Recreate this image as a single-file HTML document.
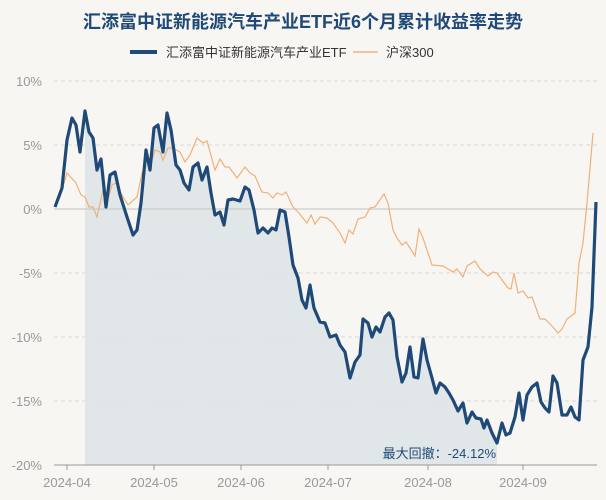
<!DOCTYPE html>
<html><head><meta charset="utf-8"><style>
html,body{margin:0;padding:0;background:#f8f6f2;}
svg{display:block;font-family:"Liberation Sans","Noto Sans CJK SC",sans-serif;}
</style></head><body>
<svg width="606" height="500" viewBox="0 0 606 500">
<rect width="606" height="500" fill="#f8f6f2"/>
<text x="303" y="28" text-anchor="middle" font-size="18" font-weight="bold" fill="#1f4a78">汇添富中证新能源汽车产业ETF近6个月累计收益率走势</text>
<line x1="130" y1="52" x2="157" y2="52" stroke="#1f4a78" stroke-width="4"/>
<text x="166" y="57" font-size="13" fill="#333">汇添富中证新能源汽车产业ETF</text>
<line x1="353" y1="52" x2="378" y2="52" stroke="#f0b07a" stroke-width="1.5"/>
<text x="386" y="57" font-size="13" fill="#333">沪深300</text>
<g stroke="#d8d8d8" stroke-dasharray="4,3" stroke-width="1">
<line x1="54" y1="81" x2="597" y2="81"/><line x1="54" y1="145" x2="597" y2="145"/><line x1="54" y1="273" x2="597" y2="273"/><line x1="54" y1="337" x2="597" y2="337"/><line x1="54" y1="401" x2="597" y2="401"/>
</g>
<g font-size="13" fill="#999" text-anchor="end">
<text x="42" y="86">10%</text><text x="42" y="150">5%</text><text x="42" y="214">0%</text><text x="42" y="278">-5%</text><text x="42" y="342">-10%</text><text x="42" y="406">-15%</text><text x="42" y="470">-20%</text>
</g>
<polygon fill="#dde3e8" fill-opacity="0.85" points="85,465 85,111 89,132 93,138 97,170 101,159 106,207 110,175 115,172 120,195 127,217 133,235 137,230 141,203 146,150 150,170 154,128 158,125 163,152 167,113 171,130 176,165 180,170 184,183 189,190 193,167 198,163 202,180 207,167 211,193 215,215 220,212 224,225 228,200 233,199 240,201 245,187 249,190 254,210 258,233 263,228 268,233 272,228 276,230 280,210 285,212 289,237 293,265 298,278 302,300 306,308 310,285 314,308 320,322 325,323 330,337 336,335 340,345 345,352 350,378 355,362 360,355 363,319 368,323 372,337 376,327 380,332 385,317 389,313 393,320 397,357 402,382 406,373 410,347 414,377 418,378 423,339 427,360 432,378 436,393 440,383 445,387 449,393 453,400 458,411 463,403 467,423 472,412 476,418 481,419 484,428 487,420 492,433 497,443 497,465"/>
<line x1="54" y1="209" x2="597" y2="209" stroke="#ccc" stroke-width="1.2"/>
<polyline fill="none" stroke="#f0b07a" stroke-width="1.2" points="55,207 60,197 67,173 76,183 81,195 85,197 89,207 93,207 97,217 103,190 107,203 112,185 116,183 122,195 128,205 137,197 142,173 147,160 150,167 155,150 160,152 163,160 168,148 173,148 180,152 185,162 190,155 197,138 203,143 207,141 215,170 220,159 225,167 229,167 237,178 245,167 250,173 255,176 262,192 268,193 273,198 277,193 282,195 286,192 293,207 298,212 307,223 311,215 315,224 320,217 327,218 333,223 340,233 345,243 349,230 353,234 358,219 365,217 370,208 375,207 384,194 388,203 393,230 397,238 402,245 406,242 410,248 415,256 419,229 423,238 432,265 443,266 448,269 453,272 457,269 463,277 467,266 475,261 480,269 488,276 493,272 497,273 502,280 508,288 511,289 514,273 518,293 523,291 528,298 532,297 540,319 545,319 551,325 558,333 562,329 567,319 575,313 579,263 583,243 587,203 593,133"/>
<polyline fill="none" stroke="#1f4a78" stroke-width="3.2" stroke-linejoin="round" points="55,207 62,188 67,140 72,118 76,125 80,152 85,111 89,132 93,138 97,170 101,159 106,207 110,175 115,172 120,195 127,217 133,235 137,230 141,203 146,150 150,170 154,128 158,125 163,152 167,113 171,130 176,165 180,170 184,183 189,190 193,167 198,163 202,180 207,167 211,193 215,215 220,212 224,225 228,200 233,199 240,201 245,187 249,190 254,210 258,233 263,228 268,233 272,228 276,230 280,210 285,212 289,237 293,265 298,278 302,300 306,308 310,285 314,308 320,322 325,323 330,337 336,335 340,345 345,352 350,378 355,362 360,355 363,319 368,323 372,337 376,327 380,332 385,317 389,313 393,320 397,357 402,382 406,373 410,347 414,377 418,378 423,339 427,360 432,378 436,393 440,383 445,387 449,393 453,400 458,411 463,403 467,423 472,412 476,418 481,419 484,428 487,420 492,433 497,443 502,423 506,435 510,433 515,417 519,393 523,420 527,395 532,387 537,383 541,402 545,408 549,412 553,376 557,383 562,415 567,415 571,407 575,417 579,420 583,360 588,347 592,307 596,202"/>
<line x1="54" y1="465" x2="597" y2="465" stroke="#999" stroke-width="1"/>
<g stroke="#999"><line x1="67" y1="465" x2="67" y2="470"/><line x1="154" y1="465" x2="154" y2="470"/><line x1="241" y1="465" x2="241" y2="470"/><line x1="328" y1="465" x2="328" y2="470"/><line x1="428" y1="465" x2="428" y2="470"/><line x1="523" y1="465" x2="523" y2="470"/></g>
<g font-size="13" fill="#999" text-anchor="middle">
<text x="67" y="487">2024-04</text><text x="154" y="487">2024-05</text><text x="241" y="487">2024-06</text><text x="328" y="487">2024-07</text><text x="428" y="487">2024-08</text><text x="523" y="487">2024-09</text>
</g>
<text x="496" y="458" text-anchor="end" font-size="13" fill="#1f4a78">最大回撤：-24.12%</text>
</svg>
</body></html>
